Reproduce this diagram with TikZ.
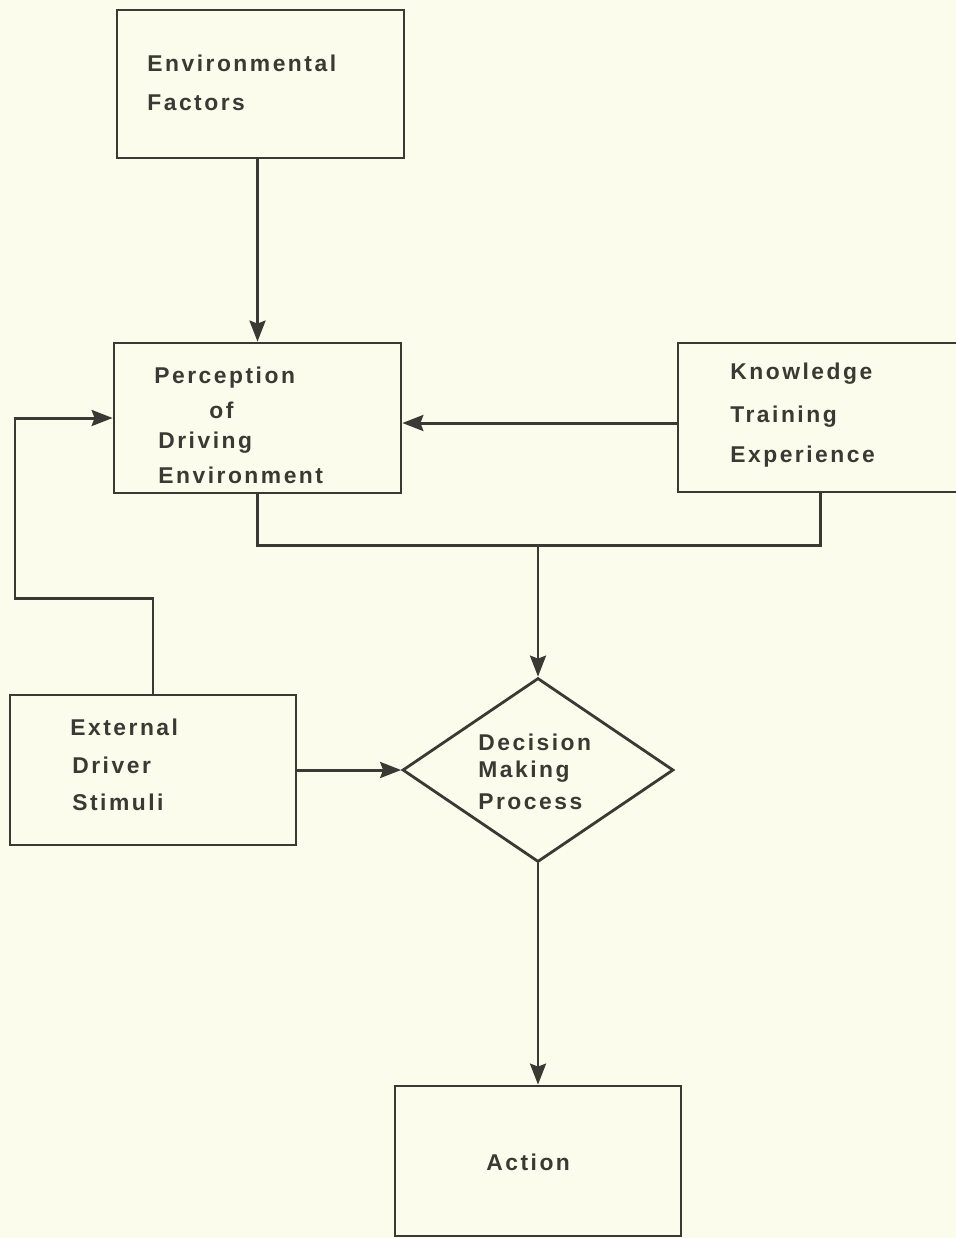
\documentclass[tikz,border=0pt]{standalone}
\usepackage{fontspec}
\setmainfont{Liberation Sans}[LetterSpace=11]
\usetikzlibrary{shapes.geometric,arrows.meta}
\definecolor{bgc}{RGB}{252,252,236}
\definecolor{ink}{RGB}{58,58,52}
\tikzset{
  box/.style={draw=ink, line width=1.6pt, rectangle, inner sep=0pt},
  dia/.style={draw=ink, line width=1.6pt, diamond, inner sep=0pt},
  lbl/.style={anchor=west, inner sep=0pt, text=ink, font=\bfseries\fontsize{13}{15}\selectfont},
  conn/.style={draw=ink, line width=1.7pt},
  arr/.style={conn, -{Stealth[length=0.42cm, width=0.32cm, inset=0.06cm]}}
}
\begin{document}
\begin{tikzpicture}[x=0.02cm, y=-0.02cm]
\fill[bgc] (0,0) rectangle (956,1238);
\useasboundingbox (0,0) rectangle (956,1238);
\clip (0,0) rectangle (956,1238);
% boxes
\node[box, minimum width=5.74cm, minimum height=2.96cm] (env) at (260.5,84) {};
\node[box, minimum width=5.74cm, minimum height=3.0cm] (perc) at (257.5,418) {};
\node[box, minimum width=5.7cm, minimum height=2.98cm] (know) at (820.5,417.5) {};
\node[box, minimum width=5.72cm, minimum height=3.0cm] (ext) at (153,770) {};
\node[dia, minimum width=5.42cm, minimum height=3.68cm] (dec) at (538,770) {};
\node[box, minimum width=5.72cm, minimum height=3.0cm] (act) at (538,1161) {};
% labels
\node[lbl] (t1) at (147,63) {Environmental};
\node[lbl] (t2) at (147,103) {Factors};
\node[lbl] (t3) at (154,378) {Perception};
\node[lbl] (t4) at (209,410) {of};
\node[lbl] (t5) at (158,443) {Driving};
\node[lbl] (t6) at (158,475) {Environment};
\node[lbl] (t7) at (730,374) {Knowledge};
\node[lbl] (t8) at (730,417) {Training};
\node[lbl] (t9) at (730,457) {Experience};
\node[lbl] (t10) at (70,727) {External};
\node[lbl] (t11) at (72,765) {Driver};
\node[lbl] (t12) at (72,802) {Stimuli};
\node[lbl] (t13) at (478,742) {Decision};
\node[lbl] (t14) at (478,772) {Making};
\node[lbl] (t15) at (478,802) {Process};
\node[lbl] (t16) at (486,1162) {Action};
% coordinates
\coordinate (jn) at (538,545);
\coordinate (lp1) at (153,598);
\coordinate (lp2) at (15,598);
% connectors
\draw[arr] (env.south -| perc.north) -- (perc.north);
\draw[arr] (know.west |- 0,423) -- (perc.east |- 0,423);
\draw[conn] (perc.south) |- (jn) -| (know.south);
\draw[arr] (jn) -- (dec.north);
\draw[arr] (ext.north) -- (lp1) -- (lp2) |- (perc.west);
\draw[arr] (ext.east) -- (dec.west);
\draw[arr] (dec.south) -- (act.north);
\end{tikzpicture}
\end{document}
